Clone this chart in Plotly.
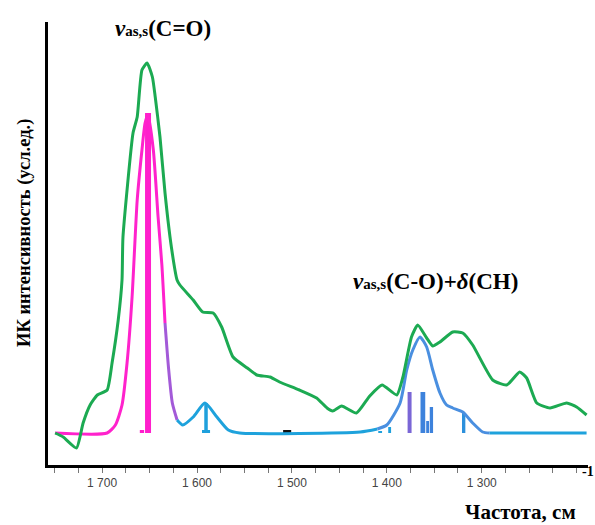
import plotly.graph_objects as go

# ---------------- data ----------------
# experimental IR spectrum (green)
exp_wn = [1749.5, 1741, 1727, 1720, 1712.6, 1705, 1694.7, 1689.5, 1683, 1679, 1678, 1667.4, 1663,
          1658, 1652.6, 1647, 1644, 1639, 1633.7, 1627, 1621, 1618, 1604, 1594, 1583, 1574, 1562,
          1547, 1537, 1523, 1513, 1492, 1474, 1463, 1457, 1447.6, 1432, 1418, 1405, 1389.5, 1383,
          1374, 1367.4, 1358, 1351.6, 1344, 1330.5, 1320, 1309.5, 1288.4, 1273.7, 1260, 1252.6,
          1242, 1228, 1210.5, 1200, 1189.5]
exp_int = [0, -4, -15, 10, 28, 38, 43, 70, 113, 153, 196, 300, 316,
           363, 370, 356, 336, 296, 240, 186, 153, 148, 133, 121, 120, 106, 76,
           65, 58, 56, 51, 43, 35, 25, 22, 27, 20, 37, 48, 38, 56,
           96, 108, 95, 87, 91, 101, 100, 88, 53, 48, 61, 55,
           30, 25, 30, 26, 18]

# computed spectrum (envelope), split into coloured segments
calc1_wn = [1749.5, 1694.7, 1686, 1679, 1673.7, 1668.4, 1663, 1658, 1654.7, 1651.6, 1646, 1641, 1637, 1633.7]
calc1_int = [0, 0, 8, 28, 70, 136, 233, 283, 310, 318, 283, 216, 168, 110]
calc2_wn = [1633.7, 1630, 1626, 1621]
calc2_int = [110, 65, 30, 13]
calc3_wn = [1621, 1615, 1604, 1591.6, 1579, 1567, 1555, 1428, 1410]
calc3_int = [13, 8, 16, 30, 16, 3, 0, 1, 4]
calc4_wn = [1410, 1400, 1386, 1379, 1372.6, 1365, 1358, 1351.6, 1344, 1337, 1330.5, 1320, 1309.5, 1299, 1291.6]
calc4_int = [4, 8, 30, 63, 83, 96, 86, 63, 40, 28, 25, 21, 10, 1, 0]
calc5_wn = [1291.6, 1189.5]
calc5_int = [0, 0]

# stick (calculated line) spectrum
stick_wn = [1651.6, 1658, 1590.5, 1590.5, 1505, 1407, 1397, 1376, 1362, 1357, 1353, 1319]
stick_int = [320, 3, 30, 3, 3, 2, 6, 41, 41, 12, 26, 20]
stick_w = [6.3, 4.5, 3.7, 8.5, 8.5, 4, 3, 4.2, 5, 3, 3.5, 3.5]
stick_col = ["#ff1fcc", "#ff1fcc", "#1fa0dc", "#1fa0dc", "#111111", "#1fa0dc", "#1fa0dc",
             "#7a66d6", "#3d82dc", "#3d82dc", "#3d82dc", "#2c90dc"]

tick_vals = [1700, 1600, 1500, 1400, 1300]
tick_text = ["1 700", "1 600", "1 500", "1 400", "1 300"]

# ---------------- figure ----------------
fig = go.Figure()

fig.add_trace(go.Bar(x=stick_wn, y=stick_int, width=stick_w, marker=dict(color=stick_col, line=dict(width=0)),
                     hoverinfo="skip"))

seg_cols = ["#ff22cc", "#a35ad8", "#1ea2dc", "#4a8fe0", "#1ea2dc"]
for wn, it, c in zip([calc1_wn, calc2_wn, calc3_wn, calc4_wn, calc5_wn],
                     [calc1_int, calc2_int, calc3_int, calc4_int, calc5_int], seg_cols):
    fig.add_trace(go.Scatter(x=wn, y=it, mode="lines", line=dict(color=c, width=3, shape="spline", smoothing=0.6)))

fig.add_trace(go.Scatter(x=exp_wn, y=exp_int, mode="lines",
                         line=dict(color="#1caa52", width=3, shape="spline", smoothing=0.5)))

serif = "Liberation Serif, Times New Roman, serif"


def px_x(p):
    return (p - 48) / 540


def px_y(p):
    return (465 - p) / 443


fig.update_layout(
    width=595, height=525,
    margin=dict(l=48, r=7, t=22, b=60),
    paper_bgcolor="white", plot_bgcolor="white",
    showlegend=False, barmode="overlay",
    xaxis=dict(range=[1757, 1188], showgrid=False, zeroline=False,
               showline=True, linecolor="black", linewidth=3,
               tickmode="array", tickvals=tick_vals, ticktext=tick_text,
               ticks="outside", ticklen=5, tickwidth=1, tickcolor="#777",
               tickfont=dict(family="Liberation Sans, Arial, sans-serif", size=12, color="#444"),
               minor=dict(dtick=25, tick0=1700, ticks="outside", ticklen=5, tickcolor="#777", tickwidth=1)),
    yaxis=dict(range=[-32, 411], showgrid=False, zeroline=False,
               showline=True, linecolor="black", linewidth=3,
               showticklabels=False, ticks=""),
    annotations=[
        dict(text="<b><i>ν</i><span style='font-size:15px'>as,s</span>(C=O)</b>", xref="paper", yref="paper",
             x=px_x(163), y=px_y(28), xanchor="center", yanchor="middle", showarrow=False,
             font=dict(family=serif, size=23, color="black")),
        dict(text="<b><i>ν</i><span style='font-size:15px'>as,s</span>(C-O)+<i>δ</i>(CH)</b>", xref="paper", yref="paper",
             x=px_x(435), y=px_y(282), xanchor="center", yanchor="middle", showarrow=False,
             font=dict(family=serif, size=23, color="black")),
        dict(text="<b>ИК интенсивность (усл.ед.)</b>", xref="paper", yref="paper",
             x=px_x(24), y=px_y(233), xanchor="center", yanchor="middle", textangle=-90, showarrow=False,
             font=dict(family=serif, size=18.5, color="black")),
        dict(text="<b>Частота, см</b>", xref="paper", yref="paper",
             x=px_x(520), y=px_y(512), xanchor="center", yanchor="middle", showarrow=False,
             font=dict(family=serif, size=21, color="black")),
        dict(text="<b>-1</b>", xref="paper", yref="paper",
             x=px_x(588), y=px_y(471), xanchor="center", yanchor="middle", showarrow=False,
             font=dict(family=serif, size=14, color="black")),
    ],
)

fig.write_html("out.html", config={"displayModeBar": False},
               post_script="document.body.style.margin='0';")
